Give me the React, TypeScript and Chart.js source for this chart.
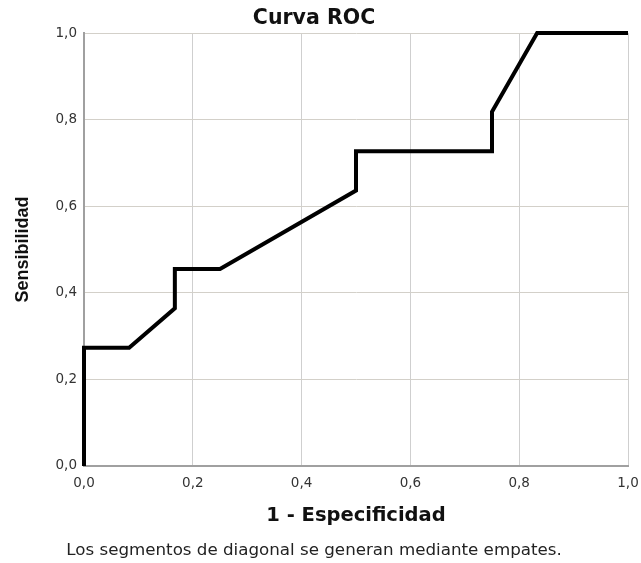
import React, { useEffect, useRef } from "react";
import { Chart, registerables } from "chart.js";

Chart.register(...registerables);

const fprValues = [0, 0, 0.083, 0.167, 0.167, 0.25, 0.5, 0.5, 0.75, 0.75, 0.833, 1];
const tprValues = [0, 0.273, 0.273, 0.364, 0.455, 0.455, 0.636, 0.727, 0.727, 0.818, 1, 1];
const tickValues = [0, 0.2, 0.4, 0.6, 0.8, 1];
const titleText = "Curva ROC";
const xTitle = "1 - Especificidad";
const yTitle = "Sensibilidad";
const footerText = "Los segmentos de diagonal se generan mediante empates.";

const WIDE = "'DejaVu Sans', sans-serif";
const ARIAL = "'Liberation Sans', Arial, sans-serif";

export default function App() {
  const ref = useRef<HTMLCanvasElement | null>(null);

  useEffect(() => {
    if (!ref.current) return;
    const fmt = (v: number) => v.toFixed(1).replace(".", ",");
    const chart = new Chart(ref.current, {
      type: "line",
      data: {
        datasets: [
          {
            label: "ROC",
            data: fprValues.map((x, i) => ({ x, y: tprValues[i] })),
            borderColor: "#000000",
            borderWidth: 4,
            pointRadius: 0,
            tension: 0,
            fill: false,
            borderJoinStyle: "miter",
            clip: false,
          },
        ],
      },
      options: {
        animation: false,
        responsive: false,
        maintainAspectRatio: false,
        layout: { padding: { left: 0, right: 13, top: 0, bottom: 0 } },
        plugins: {
          legend: { display: false },
          tooltip: { enabled: false },
          title: {
            display: true,
            text: titleText,
            color: "#111",
            font: { family: WIDE, size: 20.5, weight: "bold" },
            padding: { top: 6, bottom: 2.4 },
          },
          subtitle: {
            display: true,
            position: "bottom",
            text: footerText,
            color: "#222",
            font: { family: WIDE, size: 16.7, weight: "normal" },
            padding: { top: 11.2, bottom: 2 },
          },
        },
        scales: {
          x: {
            type: "linear",
            min: 0,
            max: 1,
            afterBuildTicks: (s: any) => {
              s.ticks = tickValues.map((v) => ({ value: v }));
            },
            afterFit: (s: any) => {
              s.height = 63.8;
              s.paddingRight = 0;
              s.paddingLeft = 0;
            },
            ticks: {
              callback: (v: any) => fmt(Number(v)),
              color: "#333",
              font: { family: WIDE, size: 13.5 },
              padding: 9,
              maxRotation: 0,
            },
            grid: { color: "#cfcfcf", lineWidth: 1, drawTicks: false },
            border: { color: "#a0a0a0", width: 2 },
            title: {
              display: true,
              text: xTitle,
              color: "#111",
              font: { family: WIDE, size: 19.5, weight: "bold" },
              padding: { top: 10, bottom: 2 },
            },
          },
          y: {
            type: "linear",
            min: 0,
            max: 1,
            afterBuildTicks: (s: any) => {
              s.ticks = tickValues.map((v) => ({ value: v }));
            },
            afterFit: (s: any) => {
              s.width = 84;
            },
            ticks: {
              callback: (v: any) => fmt(Number(v)),
              color: "#333",
              font: { family: WIDE, size: 13.5 },
              padding: 7,
            },
            grid: { color: "#d3d0c9", lineWidth: 1, drawTicks: false },
            border: { color: "#a0a0a0", width: 2 },
            title: {
              display: true,
              text: yTitle,
              color: "#111",
              font: { family: ARIAL, size: 18, weight: "bold" },
              padding: { top: 12.7, bottom: 0 },
            },
          },
        },
      },
    });
    return () => chart.destroy();
  }, []);

  return (
    <div style={{ position: "fixed", left: 0, top: 0, width: 641, height: 563, background: "#fff" }}>
      <canvas ref={ref} width={641} height={563} style={{ width: 641, height: 563, display: "block" }} />
    </div>
  );
}
